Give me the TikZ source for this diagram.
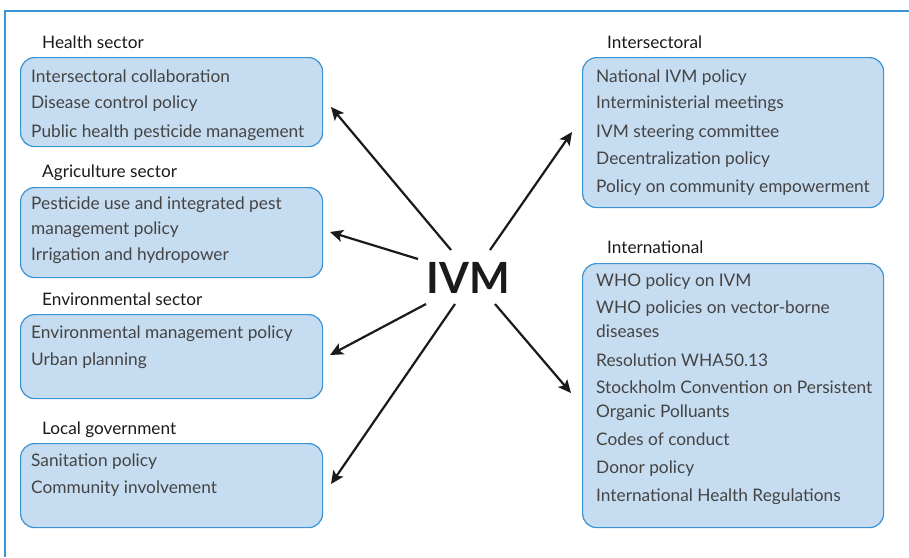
\documentclass[tikz,border=0pt]{standalone}
\usepackage{fontspec}
\setmainfont{Lato}
\usetikzlibrary{arrows.meta}
\definecolor{frameblue}{HTML}{3A93D3}
\definecolor{boxfill}{HTML}{C6DCF0}
\definecolor{itemgray}{HTML}{444444}
\definecolor{titleblack}{HTML}{1A1A1A}
\begin{document}
\begin{tikzpicture}[x=1pt,y=-1pt,
  box/.style={draw=frameblue, line width=1.2pt, fill=boxfill, rounded corners=14pt, anchor=north west, inner sep=0pt},
  item/.style={anchor=base west, inner sep=0pt, text=itemgray, font=\fontsize{17.3}{20}\selectfont},
  title/.style={anchor=base west, inner sep=0pt, text=titleblack, font=\fontsize{17.2}{20}\selectfont},
  link/.style={line width=2.2pt, draw=titleblack, -{Stealth[length=13pt,width=12pt,inset=3pt]}}]
\useasboundingbox (0,0) rectangle (909,557);
% frame (top and left only)
\draw[frameblue, line width=1.6pt] (909,11) -- (5,11) -- (5,557);

% boxes
\node[box, minimum width=302pt, minimum height=89pt] (health) at (20,57) {};
\node[box, minimum width=302pt, minimum height=90pt] (agri) at (20,187) {};
\node[box, minimum width=302pt, minimum height=84pt] (env) at (20,314) {};
\node[box, minimum width=302pt, minimum height=84pt] (local) at (20,443) {};
\node[box, minimum width=301pt, minimum height=150pt] (inter) at (582,57) {};
\node[box, minimum width=301pt, minimum height=264pt] (intl) at (582,263) {};

% left titles and items
\node[title] (th) at (42,48) {Health sector};
\node[item] (h1) at (31,82) {Intersectoral collaboration};
\node[item] (h2) at (31,108) {Disease control policy};
\node[item] (h3) at (31,137) {Public health pesticide management};

\node[title] (ta) at (42,177) {Agriculture sector};
\node[item] (a1) at (31,209) {Pesticide use and integrated pest};
\node[item] (a2) at (31,234) {management policy};
\node[item] (a3) at (31,260) {Irrigation and hydropower};

\node[title] (te) at (42,305) {Environmental sector};
\node[item] (e1) at (31,338) {Environmental management policy};
\node[item] (e2) at (31,365) {Urban planning};

\node[title] (tl) at (42,434) {Local government};
\node[item] (l1) at (31,466) {Sanitation policy};
\node[item] (l2) at (31,493) {Community involvement};

% right titles and items
\node[title] (ti) at (607,48) {Intersectoral};
\node[item] (i1) at (596,82) {National IVM policy};
\node[item] (i2) at (596,108) {Interministerial meetings};
\node[item] (i3) at (596,137) {IVM steering committee};
\node[item] (i4) at (596,164) {Decentralization policy};
\node[item] (i5) at (596,192) {Policy on community empowerment};

\node[title] (tn) at (607,253) {International};
\node[item] (n1) at (596,286) {WHO policy on IVM};
\node[item] (n2) at (596,313) {WHO policies on vector-borne};
\node[item] (n3) at (596,337) {diseases};
\node[item] (n4) at (596,366) {Resolution WHA50.13};
\node[item] (n5) at (596,393) {Stockholm Convention on Persistent};
\node[item] (n6) at (596,417) {Organic Polluants};
\node[item] (n7) at (596,445) {Codes of conduct};
\node[item] (n8) at (596,473) {Donor policy};
\node[item] (n9) at (596,501) {International Health Regulations};

% centre
\node[anchor=base, inner sep=0pt, text=titleblack, font=\fontsize{43}{50}\selectfont\bfseries] (ivm) at (468,293) {IVM};

% arrow end points
\coordinate (sH) at (451,250); \coordinate (eH) at (331,107);
\coordinate (sA) at (418,259); \coordinate (eA) at (330,232);
\coordinate (sE) at (426,304); \coordinate (eE) at (330,355);
\coordinate (sL) at (455,304); \coordinate (eL) at (331,484);
\coordinate (sI) at (490,250); \coordinate (eI) at (572,132);
\coordinate (sN) at (495,304); \coordinate (eN) at (571,393);

\draw[link] (sH) -- (eH);
\draw[link] (sA) -- (eA);
\draw[link] (sE) -- (eE);
\draw[link] (sL) -- (eL);
\draw[link] (sI) -- (eI);
\draw[link] (sN) -- (eN);
\end{tikzpicture}
\end{document}
